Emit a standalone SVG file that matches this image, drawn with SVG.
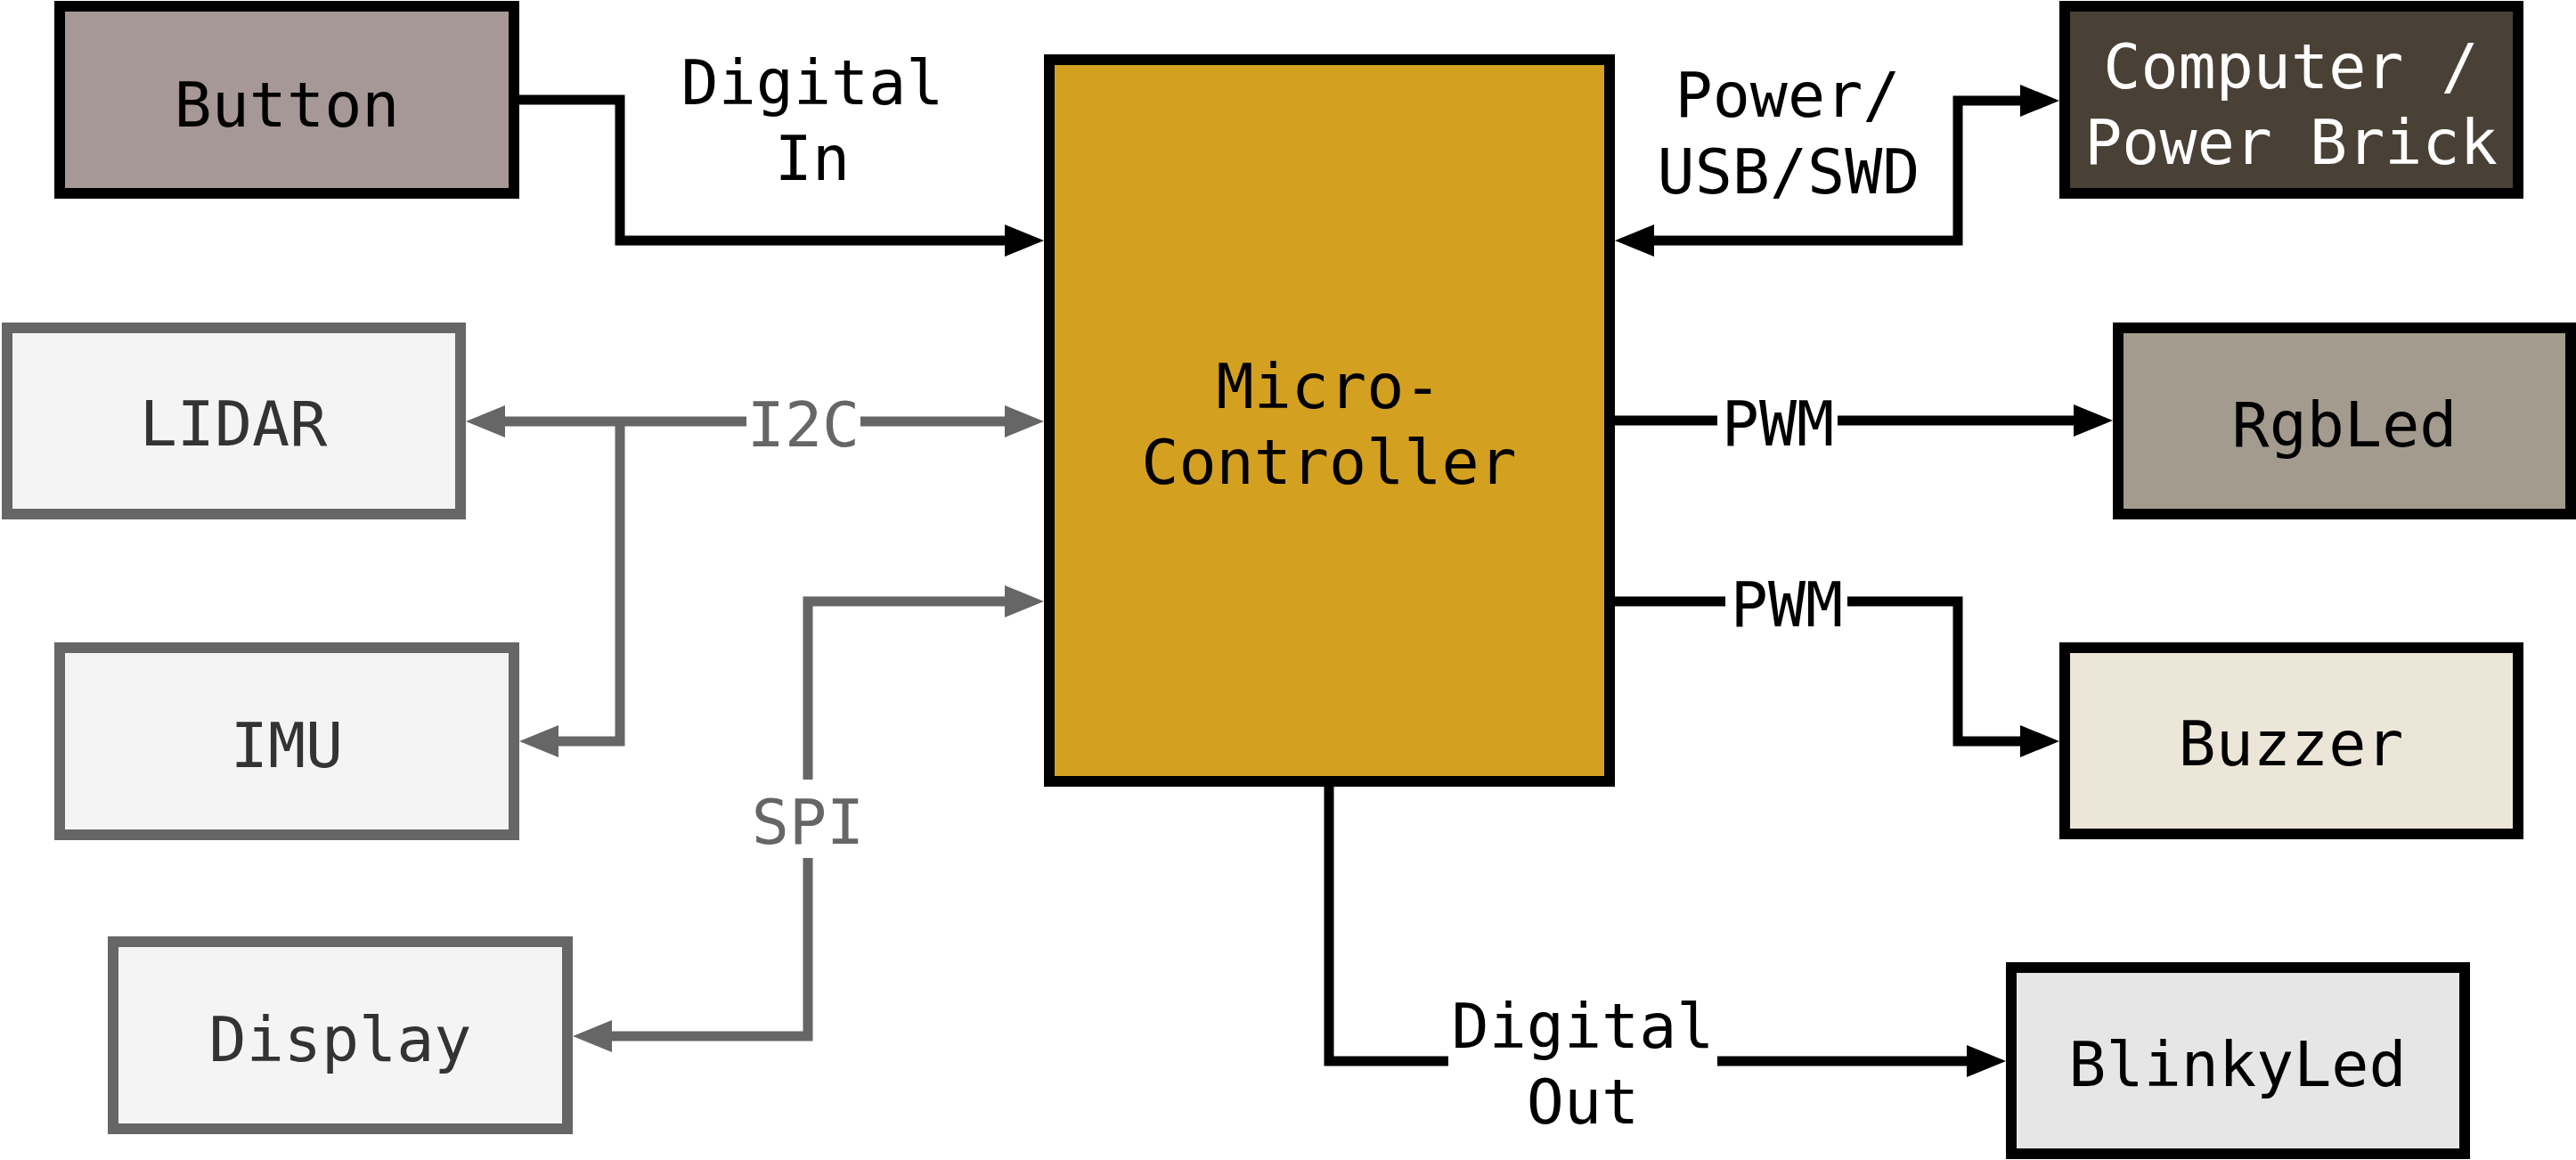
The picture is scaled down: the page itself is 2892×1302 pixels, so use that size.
<svg xmlns="http://www.w3.org/2000/svg" width="2892" height="1302" viewBox="0 0 2892 1302">
<style>
text{font-family:"DejaVu Sans Mono","Liberation Mono",monospace;font-size:70px;text-anchor:middle}
.nb{stroke:#000;stroke-width:12}
.ng{stroke:#666;stroke-width:12}
.t{fill:#000}
.tg{fill:#333}
.tw{fill:#fff}
.lk{fill:none;stroke:#000;stroke-width:11;stroke-linejoin:miter;stroke-linecap:butt}
.lg{fill:none;stroke:#666;stroke-width:11;stroke-linejoin:miter;stroke-linecap:butt}
.lt{fill:#000}
.ltg{fill:#666}
</style>
<defs>
<marker id="ak" markerUnits="userSpaceOnUse" markerWidth="44" markerHeight="36" refX="2" refY="18" orient="auto-start-reverse" viewBox="0 0 44 36"><path d="M0,0 L44,18 L0,36 z" fill="#000"/></marker>
<marker id="ag" markerUnits="userSpaceOnUse" markerWidth="44" markerHeight="36" refX="2" refY="18" orient="auto-start-reverse" viewBox="0 0 44 36"><path d="M0,0 L44,18 L0,36 z" fill="#666"/></marker>
</defs>
<rect width="2892" height="1302" fill="#fff"/>
<g id="connectors">
<path class="lk" d="M583,112 H696 V270 H1130" marker-end="url(#ak)"/>
<path class="lg" d="M966,473 H1130" marker-end="url(#ag)"/>
<path class="lg" d="M838,473 H565" marker-end="url(#ag)"/>
<path class="lg" d="M696,473 V832 H625" marker-end="url(#ag)"/>
<path class="lg" d="M907,875 V675 H1130" marker-end="url(#ag)"/>
<path class="lg" d="M907,963 V1163 H685" marker-end="url(#ag)"/>
<path class="lk" d="M1855,270 H2198 V113 H2270" marker-start="url(#ak)" marker-end="url(#ak)"/>
<path class="lk" d="M1813,472 H1928"/>
<path class="lk" d="M2063,472 H2330" marker-end="url(#ak)"/>
<path class="lk" d="M1813,675 H1937"/>
<path class="lk" d="M2074,675 H2198 V832 H2270" marker-end="url(#ak)"/>
<path class="lk" d="M1492,883 V1191 H1626"/>
<path class="lk" d="M1928,1191 H2210" marker-end="url(#ak)"/>
<text class="lt" x="912" y="117">Digital</text>
<text class="lt" x="912" y="202">In</text>
<text class="ltg" x="902" y="501">I2C</text>
<text class="ltg" x="907" y="947">SPI</text>
<text class="lt" x="2007" y="131">Power/</text>
<text class="lt" x="2008" y="217">USB/SWD</text>
<text class="lt" x="1996" y="500">PWM</text>
<text class="lt" x="2006" y="703">PWM</text>
<text class="lt" x="1777" y="1176">Digital</text>
<text class="lt" x="1777" y="1261">Out</text>
</g>
<g id="button"><rect class="nb" x="67" y="7" width="510" height="210" fill="#a59896"/><text class="t" x="322" y="142">Button</text></g>
<g id="lidar"><rect class="ng" x="8" y="368" width="509" height="209" fill="#f4f4f4"/><text class="tg" x="262" y="500">LIDAR</text></g>
<g id="imu"><rect class="ng" x="67" y="727" width="510" height="210" fill="#f4f4f4"/><text class="tg" x="322" y="861">IMU</text></g>
<g id="display"><rect class="ng" x="127" y="1057" width="510" height="210" fill="#f4f4f4"/><text class="tg" x="382" y="1191">Display</text></g>
<g id="mcu"><rect class="nb" x="1178" y="67" width="629" height="810" fill="#d4a020"/><text class="t" x="1492" y="458">Micro-</text><text class="t" x="1492" y="543">Controller</text></g>
<g id="computer"><rect class="nb" x="2318" y="7" width="509" height="210" fill="#4a4136"/><text class="tw" x="2572" y="99">Computer /</text><text class="tw" x="2572" y="184">Power Brick</text></g>
<g id="rgbled"><rect class="nb" x="2378" y="368" width="508" height="209" fill="#a39b8e"/><text class="t" x="2632" y="501">RgbLed</text></g>
<g id="buzzer"><rect class="nb" x="2318" y="727" width="509" height="209" fill="#ece6d9"/><text class="t" x="2572" y="859">Buzzer</text></g>
<g id="blinkyled"><rect class="nb" x="2258" y="1086" width="509" height="209" fill="#e6e6e6"/><text class="t" x="2512" y="1219">BlinkyLed</text></g>
</svg>
